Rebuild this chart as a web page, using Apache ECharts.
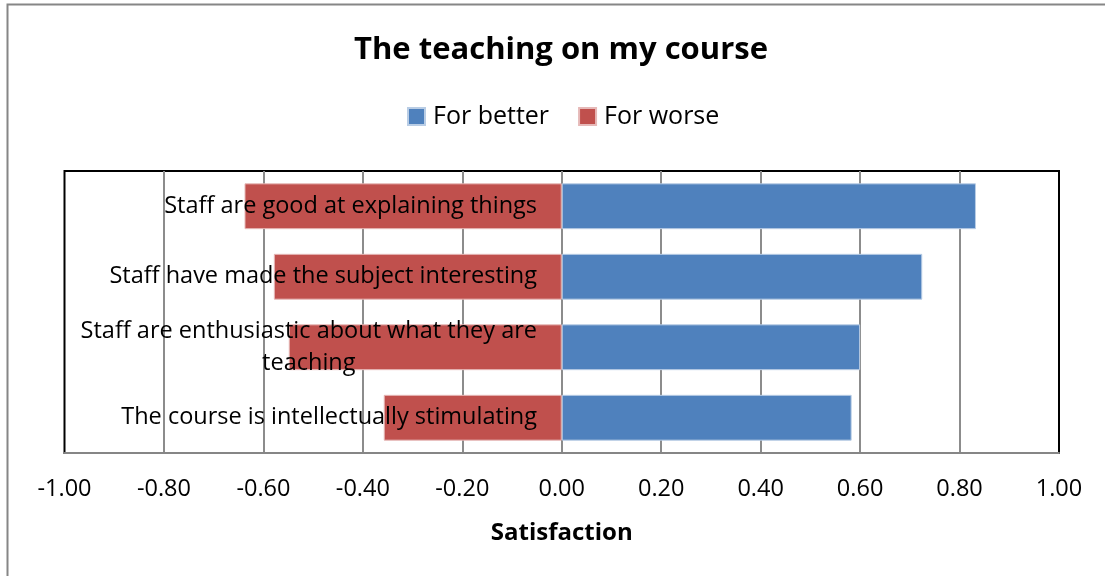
<!DOCTYPE html>
<html>
<head>
<meta charset="utf-8">
<script src="https://cdn.jsdelivr.net/npm/echarts@6/dist/echarts.min.js"></script>
<style>
  html, body { margin: 0; padding: 0; background: #fff; }
  #chart { width: 1105px; height: 576px; }
</style>
</head>
<body>
<div id="chart"></div>
<script>
// Survey statements, listed top to bottom
const categories = [
  'Staff are good at explaining things',
  'Staff have made the subject interesting',
  'Staff are enthusiastic about what they are teaching',
  'The course is intellectually stimulating'
];
// Net satisfaction shift per statement
const forBetter = [0.833, 0.725, 0.600, 0.583];
const forWorse = [-0.638, -0.579, -0.549, -0.358];
const xTicks = [-1, -0.8, -0.6, -0.4, -0.2, 0, 0.2, 0.4, 0.6, 0.8, 1];

const FONT = "'Open Sans', 'Noto Sans', sans-serif";
const GRID_LEFT = 64.5;
const LABEL_RIGHT = 537; // statements end just left of the zero line

const chart = echarts.init(document.getElementById('chart'), null, { renderer: 'canvas' });

// Long statement wraps onto a second, centred line
function labelFormatter(value) {
  if (value === 'Staff are enthusiastic about what they are teaching') {
    return '{a|Staff are enthusiastic about what they are}\n{c|teaching}';
  }
  return '{a|' + value + '}';
}

chart.setOption({
  animation: false,
  backgroundColor: '#fff',
  textStyle: { fontFamily: FONT },
  title: {
    text: 'The teaching on my course',
    left: 349,
    top: 30,
    textStyle: { fontFamily: FONT, fontSize: 31, fontWeight: 'bold', color: '#000' }
  },
  legend: {
    top: 99,
    left: 402,
    itemWidth: 17,
    itemHeight: 17,
    itemGap: 29,
    icon: 'rect',
    textStyle: { fontFamily: FONT, fontSize: 25, color: '#000', padding: [0, 0, 0, 3] },
    data: ['For better', 'For worse']
  },
  graphic: [{
    type: 'rect',
    shape: { x: 7.5, y: 4.5, width: 1300, height: 800 },
    style: { fill: 'none', stroke: '#868686', lineWidth: 2 },
    silent: true
  }],
  grid: {
    left: GRID_LEFT,
    right: 46,
    top: 171,
    bottom: 123,
    show: true,
    borderColor: '#000',
    borderWidth: 2,
    containLabel: false,
    outerBoundsMode: 'none'
  },
  xAxis: {
    type: 'value',
    min: -1,
    max: 1,
    interval: 0.2,
    name: 'Satisfaction',
    nameLocation: 'middle',
    nameGap: 68,
    nameTextStyle: { fontFamily: FONT, fontSize: 24, fontWeight: 'bold', color: '#000' },
    axisLine: { show: true, lineStyle: { color: '#868686', width: 2 } },
    axisTick: { show: false },
    axisLabel: {
      fontFamily: FONT,
      fontSize: 23.5,
      color: '#000',
      margin: 24,
      formatter: v => v.toFixed(2)
    },
    splitLine: {
      show: true,
      showMinLine: false,
      showMaxLine: false,
      lineStyle: { color: '#8c8c8c', width: 2 }
    }
  },
  yAxis: {
    type: 'category',
    data: categories,
    inverse: true,
    z: 10,
    axisLine: { show: false },
    axisTick: { show: false },
    splitLine: { show: false },
    axisLabel: {
      margin: GRID_LEFT - LABEL_RIGHT,
      align: 'right',
      hideOverlap: false,
      formatter: labelFormatter,
      rich: {
        a: { fontFamily: FONT, fontSize: 23.5, color: '#000', lineHeight: 32 },
        c: { fontFamily: FONT, fontSize: 23.5, color: '#000', lineHeight: 32, align: 'center' }
      }
    }
  },
  series: [
    {
      name: 'For better',
      type: 'bar',
      stack: 'net',
      data: forBetter,
      barCategoryGap: '35%',
      itemStyle: { color: '#4F81BD', borderColor: '#b9cde5', borderWidth: 1 }
    },
    {
      name: 'For worse',
      type: 'bar',
      stack: 'net',
      data: forWorse,
      barCategoryGap: '35%',
      itemStyle: { color: '#C0504D', borderColor: '#e6b9b8', borderWidth: 1 }
    }
  ]
});
</script>
</body>
</html>
